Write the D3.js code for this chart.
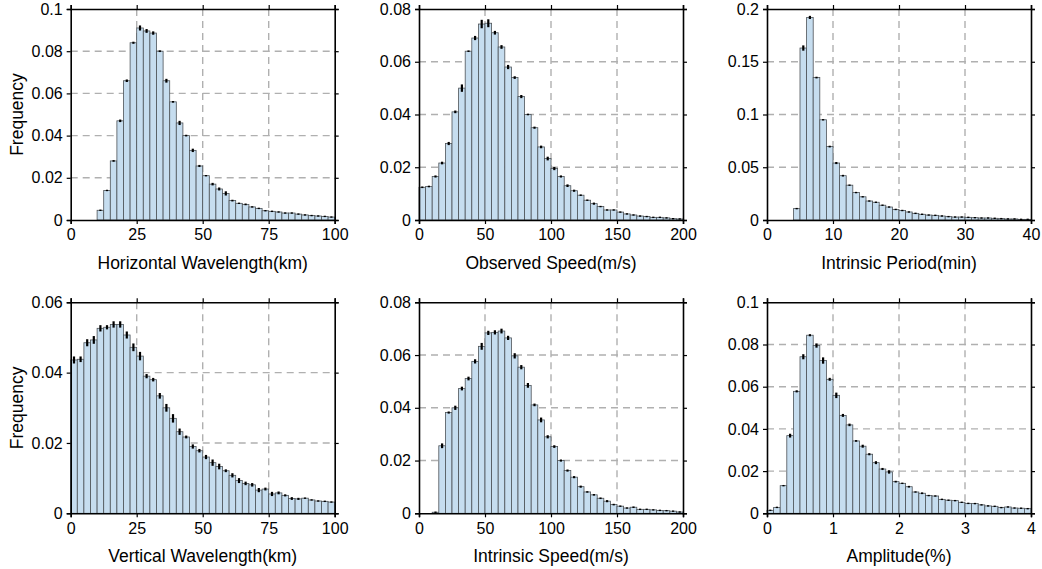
<!DOCTYPE html>
<html>
<head>
<meta charset="utf-8">
<script src="https://cdn.jsdelivr.net/npm/d3@7"></script>
<style>
  body { margin: 0; background: #fff; }
  svg text { font-family: "Liberation Sans", Arial, Helvetica, sans-serif; fill: #000; }
</style>
</head>
<body>
<div id="chart"></div>
<script>
// frequencies per bin (40 bins in each panel)
var horizWave = [0,0,0,0,0.0046,0.014,0.028,0.047,0.066,0.084,0.091,0.0896,0.0886,0.080,0.066,0.056,0.046,0.040,0.033,0.0256,
  0.021,0.017,0.0147,0.0126,0.0092,0.0079,0.0074,0.0062,0.0055,0.0044,0.0041,0.0038,0.0033,0.0033,0.0028,0.0024,0.0021,0.0019,0.0017,0.0014];
var horizWaveErr = [0,0,0,0,0.0002,0.0003,0.0004,0.0006,0.0006,0.0005,0.0012,0.0009,0.0008,0.0004,0.0009,0.0004,0.0010,0.0004,0.0008,0.0005,
  0.0003,0.0006,0.0007,0.0010,0.0004,0.0003,0.0004,0.0003,0.0003,0.0002,0.0002,0.0003,0.0002,0.0002,0.0002,0.0002,0.0001,0.0001,0.0001,0.0001];

var obsSpeed = [0.0124,0.0127,0.0165,0.0216,0.029,0.041,0.050,0.064,0.069,0.0743,0.0746,0.071,0.0656,0.058,0.054,0.0468,0.040,0.035,0.0277,0.0233,
  0.0195,0.0165,0.013,0.0111,0.0094,0.0075,0.0062,0.0051,0.0038,0.0038,0.003,0.0023,0.0019,0.0015,0.0013,0.001,0.001,0.0008,0.0005,0.0004];
var obsSpeedErr = [0.0003,0.0003,0.0004,0.0005,0.0006,0.0005,0.0014,0.0003,0.0008,0.0016,0.0015,0.0007,0.0007,0.0008,0.0005,0.0006,0.0003,0.0004,0.0005,0.0007,
  0.0006,0.0004,0.0005,0.0004,0.0003,0.0002,0.0004,0.0002,0.0002,0.0002,0.0002,0.0001,0.0001,0.0001,0.0001,0.0001,0.0001,0.0001,0.0001,0.0001];

var intrPeriod = [0,0,0,0,0.0108,0.163,0.192,0.135,0.095,0.0696,0.054,0.042,0.033,0.026,0.022,0.018,0.0168,0.014,0.0123,0.010,
  0.009,0.0076,0.0063,0.0054,0.0047,0.0044,0.0038,0.0032,0.0028,0.0028,0.0025,0.0022,0.0019,0.0019,0.0016,0.0013,0.001,0.001,0.0006,0.0006];
var intrPeriodErr = [0,0,0,0,0.0003,0.0025,0.0015,0.0008,0.0005,0.0008,0.0010,0.0008,0.0005,0.0004,0.0004,0.0003,0.0003,0.0003,0.0003,0.0003,
  0.0002,0.0002,0.0002,0.0002,0.0002,0.0002,0.0002,0.0002,0.0001,0.0001,0.0001,0.0001,0.0001,0.0001,0.0001,0.0001,0.0001,0.0001,0.0001,0.0001];

var vertWave = [0.0436,0.0438,0.0485,0.0493,0.0526,0.0529,0.0537,0.0537,0.0507,0.0472,0.0447,0.039,0.038,0.0334,0.030,0.027,0.0232,0.0217,0.019,0.0178,
  0.016,0.0144,0.0133,0.0121,0.0108,0.0093,0.0085,0.0081,0.0066,0.0069,0.0055,0.0058,0.0051,0.0042,0.0041,0.0043,0.0038,0.0035,0.0034,0.0032];
var vertWaveErr = [0.0010,0.0008,0.0010,0.0011,0.0009,0.0006,0.0009,0.0009,0.0010,0.0011,0.0012,0.0006,0.0005,0.0008,0.0011,0.0012,0.0009,0.0004,0.0006,0.0005,
  0.0006,0.0009,0.0008,0.0004,0.0006,0.0007,0.0005,0.0005,0.0006,0.0004,0.0006,0.0004,0.0003,0.0004,0.0003,0.0002,0.0002,0.0002,0.0002,0.0002];

var intrSpeed = [0,0,0.0004,0.0256,0.0382,0.040,0.0473,0.0511,0.0576,0.0633,0.0684,0.0686,0.0691,0.0665,0.0597,0.0554,0.0485,0.0411,0.0354,0.029,
  0.0253,0.020,0.0162,0.0137,0.0101,0.0081,0.007,0.0057,0.0046,0.0033,0.0027,0.002,0.0023,0.0015,0.0015,0.0013,0.0011,0.001,0.0008,0.0005];
var intrSpeedErr = [0,0,0.0001,0.0009,0.0004,0.0008,0.0007,0.0007,0.0008,0.0013,0.0008,0.0008,0.0009,0.0008,0.0010,0.0008,0.0009,0.0005,0.0009,0.0006,
  0.0005,0.0004,0.0004,0.0004,0.0004,0.0003,0.0003,0.0003,0.0004,0.0003,0.0002,0.0002,0.0003,0.0002,0.0002,0.0002,0.0001,0.0001,0.0001,0.0001];

var amplitude = [0.0014,0.0028,0.0131,0.0368,0.0578,0.0742,0.0844,0.0795,0.0724,0.0635,0.0559,0.0464,0.0419,0.0343,0.0318,0.028,0.024,0.021,0.0196,0.015,
  0.0142,0.0126,0.0101,0.0095,0.0084,0.0082,0.0066,0.0062,0.006,0.0052,0.0047,0.0046,0.004,0.0035,0.0033,0.0027,0.003,0.0025,0.0024,0.0022];
var amplitudeErr = [0.0001,0.0002,0.0002,0.0009,0.0005,0.0012,0.0005,0.0010,0.0015,0.0007,0.0013,0.0007,0.0006,0.0004,0.0007,0.0005,0.0007,0.0005,0.0008,0.0004,
  0.0003,0.0004,0.0003,0.0004,0.0003,0.0002,0.0003,0.0002,0.0002,0.0003,0.0002,0.0002,0.0002,0.0002,0.0002,0.0001,0.0001,0.0001,0.0001,0.0001];

// axis ranges and tick values
var xTicks100 = [0, 25, 50, 75, 100];
var xTicks200 = [0, 50, 100, 150, 200];
var xTicks40 = [0, 10, 20, 30, 40];
var xTicks4 = [0, 1, 2, 3, 4];

var panels = [
  {label: "Horizontal Wavelength(km)", xmax: 100, xticks: xTicks100, ymax: 0.1, yticks: [0,0.02,0.04,0.06,0.08,0.1], vals: horizWave, err: horizWaveErr, col: 0, row: 0},
  {label: "Observed Speed(m/s)", xmax: 200, xticks: xTicks200, ymax: 0.08, yticks: [0,0.02,0.04,0.06,0.08], vals: obsSpeed, err: obsSpeedErr, col: 1, row: 0},
  {label: "Intrinsic Period(min)", xmax: 40, xticks: xTicks40, ymax: 0.2, yticks: [0,0.05,0.1,0.15,0.2], vals: intrPeriod, err: intrPeriodErr, col: 2, row: 0},
  {label: "Vertical Wavelength(km)", xmax: 100, xticks: xTicks100, ymax: 0.06, yticks: [0,0.02,0.04,0.06], vals: vertWave, err: vertWaveErr, col: 0, row: 1},
  {label: "Intrinsic Speed(m/s)", xmax: 200, xticks: xTicks200, ymax: 0.08, yticks: [0,0.02,0.04,0.06,0.08], vals: intrSpeed, err: intrSpeedErr, col: 1, row: 1},
  {label: "Amplitude(%)", xmax: 4, xticks: xTicks4, ymax: 0.1, yticks: [0,0.02,0.04,0.06,0.08,0.1], vals: amplitude, err: amplitudeErr, col: 2, row: 1}
];

var width = 1042, height = 569;
var colX = [70.7, 419, 767];
var rowY = [9, 302.3];
var pw = 264, ph = 211;

var svg = d3.select("#chart").append("svg")
  .attr("width", width)
  .attr("height", height);

var fmt = function(v) { return String(+v.toFixed(4)); };

panels.forEach(function(p) {
  var g = svg.append("g")
    .attr("transform", "translate(" + colX[p.col] + "," + rowY[p.row] + ")");

  var x = d3.scaleLinear().domain([0, p.xmax]).range([0, pw]);
  var y = d3.scaleLinear().domain([0, p.ymax]).range([ph, 0]);
  var binW = p.xmax / p.vals.length;

  // dashed grid
  g.append("g").selectAll("line.gx")
    .data(p.xticks.slice(1, -1))
    .enter().append("line")
    .attr("x1", function(d) { return x(d); }).attr("x2", function(d) { return x(d); })
    .attr("y1", 0).attr("y2", ph)
    .attr("stroke", "#b0b0b0").attr("stroke-width", 1.4).attr("stroke-dasharray", "7,5");
  g.append("g").selectAll("line.gy")
    .data(p.yticks.slice(1, -1))
    .enter().append("line")
    .attr("x1", 0).attr("x2", pw)
    .attr("y1", function(d) { return y(d); }).attr("y2", function(d) { return y(d); })
    .attr("stroke", "#b0b0b0").attr("stroke-width", 1.4).attr("stroke-dasharray", "7,5");

  // bars
  var data = p.vals.map(function(v, i) { return {x0: i * binW, v: v, e: p.err[i]}; })
    .filter(function(d) { return d.v > 0; });

  g.append("g").selectAll("rect")
    .data(data)
    .enter().append("rect")
    .attr("x", function(d) { return x(d.x0); })
    .attr("width", function(d) { return x(d.x0 + binW) - x(d.x0); })
    .attr("y", function(d) { return y(d.v); })
    .attr("height", function(d) { return ph - y(d.v); })
    .attr("fill", "#c6ddef")
    .attr("stroke", "#4d5358")
    .attr("stroke-width", 0.8);

  // error bars
  g.append("g").selectAll("line")
    .data(data)
    .enter().append("line")
    .attr("x1", function(d) { return x(d.x0 + binW / 2); })
    .attr("x2", function(d) { return x(d.x0 + binW / 2); })
    .attr("y1", function(d) { return y(d.v) - Math.max(0.7, y(0) - y(d.e)); })
    .attr("y2", function(d) { return y(d.v) + Math.max(0.7, y(0) - y(d.e)); })
    .attr("stroke", "#000").attr("stroke-width", 2.2);

  // axes, ticks outward on all four sides
  var ax = function(axis) { return axis.tickSizeOuter(0).tickSize(4); };
  var bottom = g.append("g").attr("transform", "translate(0," + ph + ")")
    .call(ax(d3.axisBottom(x)).tickValues(p.xticks).tickFormat(fmt).tickPadding(5));
  var left = g.append("g")
    .call(ax(d3.axisLeft(y)).tickValues(p.yticks).tickFormat(fmt).tickPadding(4));
  var top = g.append("g")
    .call(ax(d3.axisTop(x)).tickValues(p.xticks).tickFormat(""));
  var right = g.append("g").attr("transform", "translate(" + pw + ",0)")
    .call(ax(d3.axisRight(y)).tickValues(p.yticks).tickFormat(""));

  [bottom, left, top, right].forEach(function(a) {
    a.select(".domain").attr("stroke", "#000").attr("stroke-width", 1.6);
    a.selectAll(".tick line").attr("stroke", "#000").attr("stroke-width", 1.2);
    a.selectAll("text").style("font-size", "16px").attr("fill", "#000");
  });

  g.append("text")
    .attr("x", pw / 2).attr("y", ph + 49)
    .attr("text-anchor", "middle")
    .style("font-size", "17.5px")
    .text(p.label);

  if (p.col === 0) {
    g.append("text")
      .attr("transform", "translate(-48," + (ph / 2) + ") rotate(-90)")
      .attr("text-anchor", "middle")
      .style("font-size", "17.5px")
      .text("Frequency");
  }
});
</script>
</body>
</html>
